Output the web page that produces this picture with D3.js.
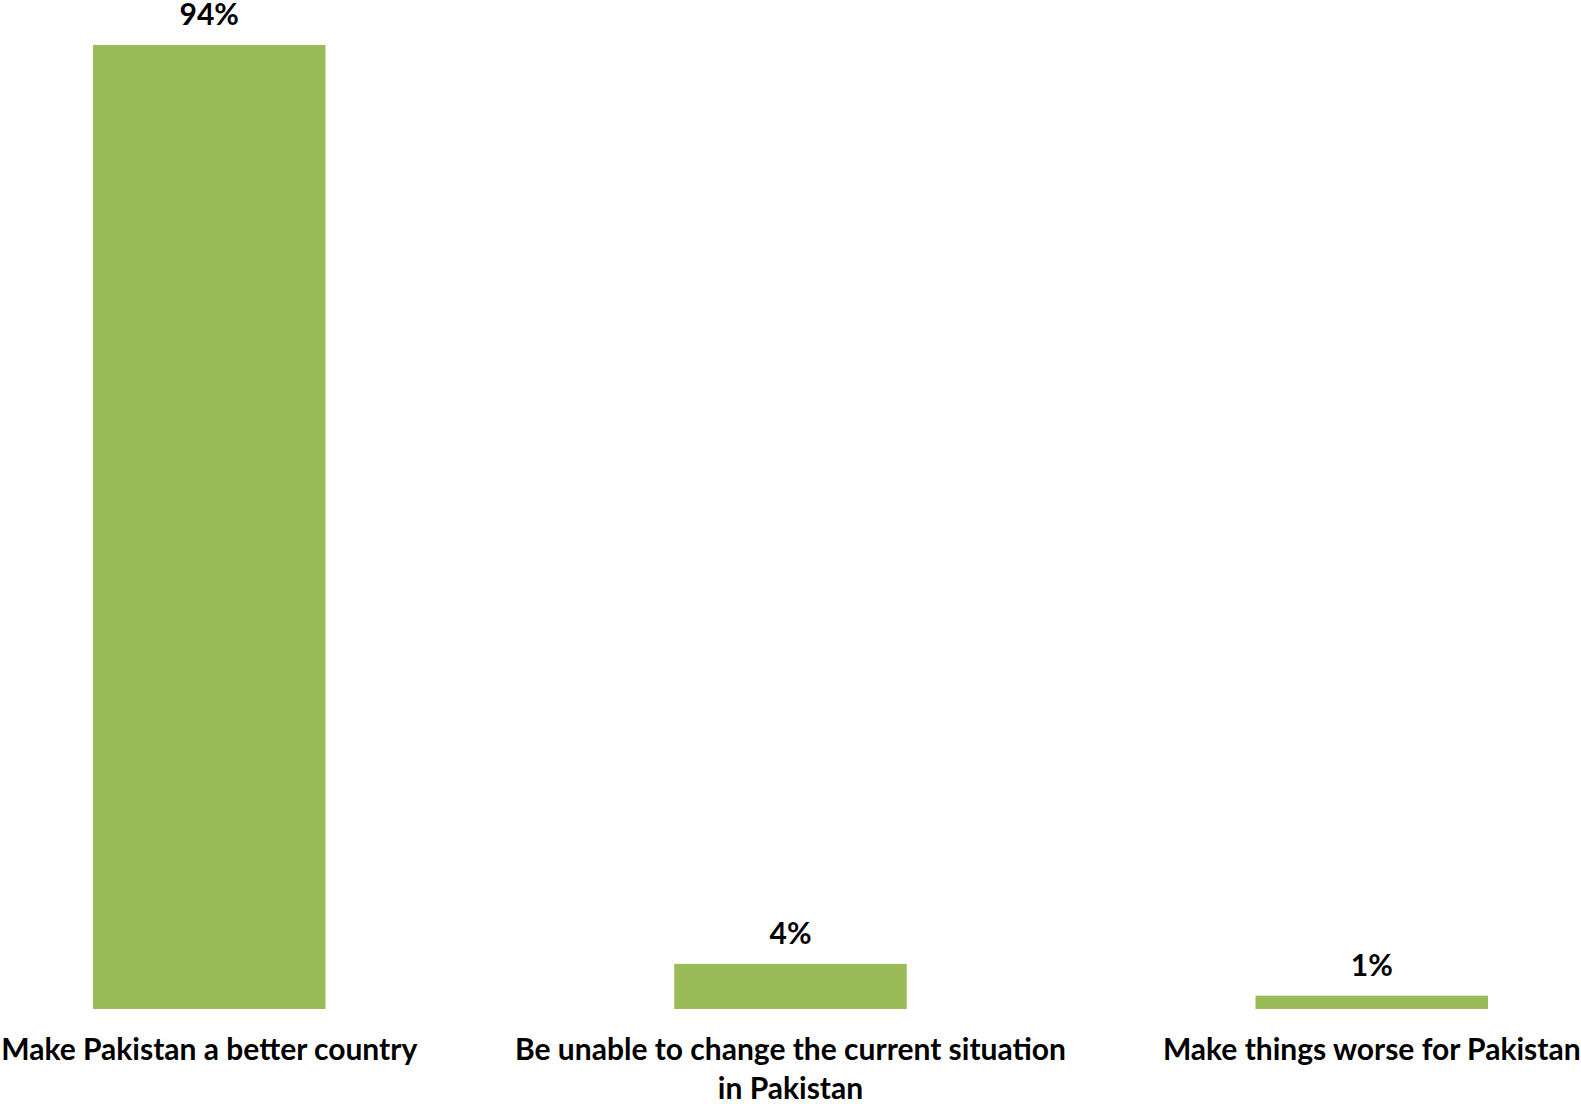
<!DOCTYPE html>
<html>
<head>
<meta charset="utf-8">
<script src="https://cdn.jsdelivr.net/npm/d3@7"></script>
<style>
  body { margin: 0; background: #fff; }
  text { font-family: Lato, "Open Sans", sans-serif; font-weight: bold; fill: #000; }
</style>
</head>
<body>
<div class="chart"></div>
<script>
var width = 1581,
    height = 1104;

var categories = ["Make Pakistan a better country",
                  "Be unable to change the current situation in Pakistan",
                  "Make things worse for Pakistan"];
var values = [94.0, 4.4, 1.3];

var svg = d3.select(".chart").append("svg")
  .attr("width", width)
  .attr("height", height);

var x = d3.scaleBand()
  .domain(categories)
  .range([0, width])
  .paddingInner(0.6)
  .paddingOuter(0.16);

var baseY = 1009;
var y = d3.scaleLinear()
  .domain([0, 100])
  .range([baseY, baseY - 1025.5]);

var fmt = function(v) { return Math.round(v) + "%"; };

// bars
svg.selectAll("rect.bar")
  .data(values)
  .enter().append("rect")
  .attr("class", "bar")
  .attr("x", function(d, i) { return x(categories[i]); })
  .attr("y", function(d) { return y(d); })
  .attr("width", x.bandwidth())
  .attr("height", function(d) { return baseY - y(d); })
  .attr("fill", "#9bbb59");

// value labels
svg.selectAll("text.value")
  .data(values)
  .enter().append("text")
  .attr("class", "value")
  .attr("x", function(d, i) { return x(categories[i]) + x.bandwidth() / 2; })
  .attr("y", function(d) { return y(d) - 20; })
  .attr("text-anchor", "middle")
  .style("font-size", "30px")
  .text(fmt);

// category labels, wrapped
var labels = svg.selectAll("text.cat")
  .data(categories)
  .enter().append("text")
  .attr("class", "cat")
  .attr("x", function(d) { return x(d) + x.bandwidth() / 2; })
  .attr("y", 1060)
  .attr("text-anchor", "middle")
  .style("font-size", "30px");

labels.each(function(d) {
  var t = d3.select(this),
      cx = +t.attr("x"),
      words = d.split(" "),
      line = [],
      span = t.append("tspan").attr("x", cx).attr("dy", 0);
  words.forEach(function(w) {
    line.push(w);
    span.text(line.join(" "));
    if (span.node().getComputedTextLength() > 565 && line.length > 1) {
      line.pop();
      span.text(line.join(" "));
      line = [w];
      span = t.append("tspan").attr("x", cx).attr("dy", 39).text(w);
    }
  });
});
</script>
</body>
</html>
